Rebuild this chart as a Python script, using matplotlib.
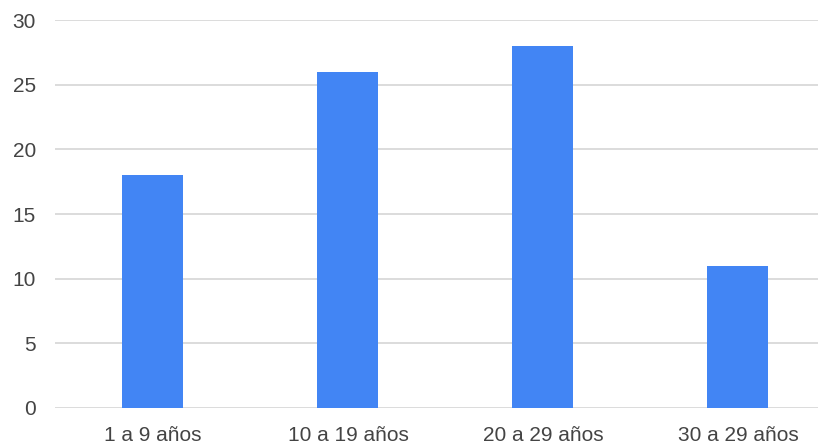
import matplotlib
matplotlib.use("Agg")
import matplotlib.pyplot as plt

categories = ["1 a 9 años", "10 a 19 años", "20 a 29 años", "30 a 29 años"]
values = [18, 26, 28, 11]
yticks = [0, 5, 10, 15, 20, 25, 30]

plt.rcParams['font.family'] = ['Liberation Sans', 'DejaVu Sans']

fig = plt.figure(figsize=(8.22, 4.42), dpi=100)
ax = fig.add_axes([0.0675, 0.0776, 0.9275, 0.8764])

x = range(len(categories))
ax.bar(x, values, width=0.313, color="#4285F4", zorder=3)

ax.set_xlim(-0.5, 3.41)
ax.set_ylim(0, 30)
ax.set_yticks(yticks)
ax.set_xticks(list(x))
ax.set_xticklabels(categories)

ax.grid(axis="y", color="#d9d9d9", linewidth=1.3, zorder=0)
for s in ax.spines.values():
    s.set_visible(False)

ax.tick_params(axis="both", length=0, labelsize=15, colors="#444444")
ax.tick_params(axis="y", pad=14)
ax.tick_params(axis="x", pad=13)

plt.savefig("out.png", dpi=100)
